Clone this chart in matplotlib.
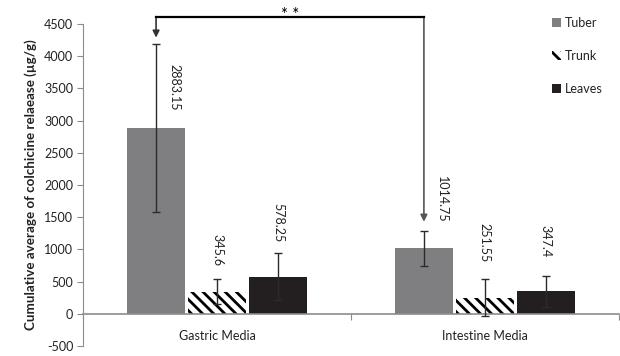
import numpy as np
import matplotlib.pyplot as plt
from matplotlib.patches import Patch

plt.rcParams['font.family'] = ['Lato', 'DejaVu Sans']
plt.rcParams['hatch.linewidth'] = 2.0
plt.rcParams['axes.unicode_minus'] = False

groups = ['Gastric Media', 'Intestine Media']
series = ['Tuber', 'Trunk', 'Leaves']
values = {'Tuber': [2883.15, 1014.75], 'Trunk': [345.6, 251.55], 'Leaves': [578.25, 347.4]}
errors = {'Tuber': [1300, 270], 'Trunk': [200, 290], 'Leaves': [370, 245]}
label_mid = {'Tuber': [3510, 1770], 'Trunk': [995, 1100], 'Leaves': [1420, 1125]}
colors = {'Tuber': '#7f7f81', 'Trunk': 'white', 'Leaves': '#231f20'}
hatches = {'Tuber': None, 'Trunk': '\\\\\\', 'Leaves': None}

fs = 9
fig = plt.figure(figsize=(6.2, 3.56), dpi=100)
ax = fig.add_axes([0.134, 0.028, 0.864, 0.905])

centers = np.arange(len(groups)) + 0.5
w = 0.216
step = 0.2275
for i, s in enumerate(series):
    x = centers + (i - 1) * step
    ax.bar(x, values[s], w, color=colors[s], hatch=hatches[s], edgecolor='black' if hatches[s] else 'none',
           linewidth=0, zorder=2)
    ax.errorbar(x, values[s], yerr=errors[s], fmt='none', ecolor='#2b2b2b', elinewidth=1, capsize=3,
                capthick=1, zorder=3)
    for j in range(len(groups)):
        dx = 0.067 if s == 'Tuber' else 0
        ax.text(x[j] + dx, label_mid[s][j], f'{values[s][j]:g}', rotation=270, ha='center', va='center',
                fontsize=fs, color='#222222')

ax.set_xlim(0, 2)
ax.set_ylim(-500, 4500)
ax.set_yticks(np.arange(-500, 4501, 500))
ax.set_xticks([0, 1, 2])
ax.set_xticklabels([])
ax.set_xticks(centers, minor=True)
ax.set_xticklabels(groups, minor=True)
ax.tick_params(axis='x', which='minor', length=0, pad=12, labelsize=fs, labelcolor='#222222')
ax.tick_params(axis='x', which='major', length=4, color='#8c8c8c')
ax.tick_params(axis='y', length=4, color='#8c8c8c', labelsize=fs, labelcolor='#222222', pad=3)
for sp in ['top', 'right']:
    ax.spines[sp].set_visible(False)
ax.spines['left'].set_color('#8c8c8c')
ax.spines['bottom'].set_color('#8c8c8c')
ax.spines['bottom'].set_position(('data', 0))
ax.spines['bottom'].set_linewidth(1.2)
ax.set_ylabel('Cumulative average of colchicine relaease (µg/g)', fontsize=9.6, fontweight='bold',
              color='#222222', labelpad=5)

# significance bracket
x1 = centers[0] - step
x2 = centers[1] - step
top = 4612
ax.plot([x1, x2], [top, top], color='black', lw=1.6, clip_on=False, zorder=4)
ax.annotate('', xy=(x1, 4286), xytext=(x1, top), annotation_clip=False,
            arrowprops=dict(arrowstyle='-|>', color='#333333', lw=1.2, mutation_scale=10, shrinkA=0, shrinkB=0))
ax.annotate('', xy=(x2, 1429), xytext=(x2, top), annotation_clip=False,
            arrowprops=dict(arrowstyle='-|>', color='#555555', lw=1.2, mutation_scale=10, shrinkA=0, shrinkB=0))
ax.text((x1 + x2) / 2, 4640, '* *', ha='center', va='center', fontsize=12, clip_on=False)

handles = [Patch(facecolor=colors[s], hatch=hatches[s], edgecolor='black' if hatches[s] else 'none',
                 linewidth=0) for s in series]
fig.legend(handles, series, loc='upper left', bbox_to_anchor=(0.872, 0.985), frameon=False, fontsize=fs,
           handlelength=0.75, handleheight=0.75, handletextpad=0.3, labelspacing=1.7, labelcolor='#222222')

fig.savefig('out.png', dpi=100)
